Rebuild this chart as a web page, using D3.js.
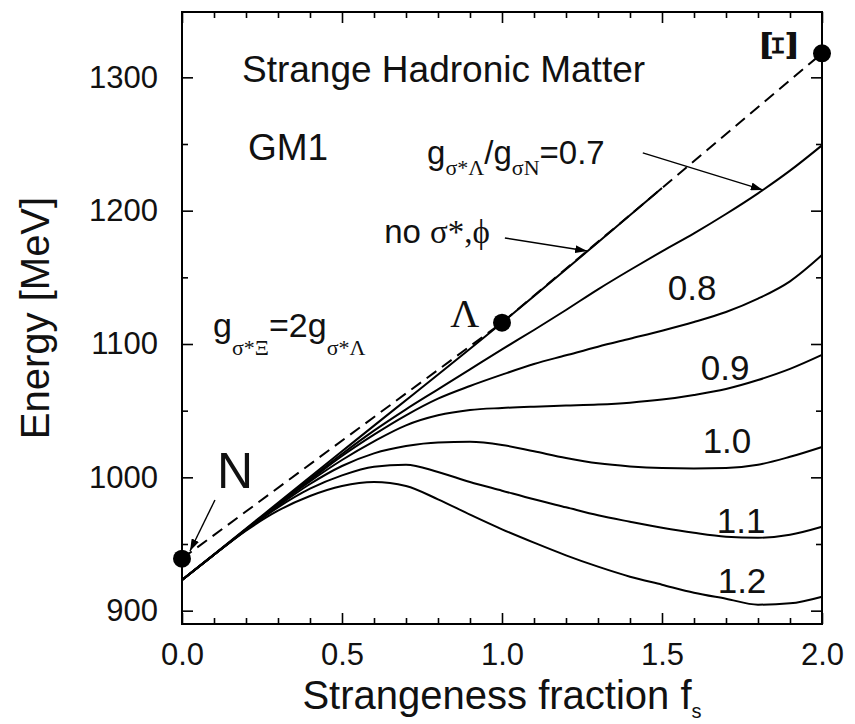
<!DOCTYPE html>
<html>
<head>
<meta charset="utf-8">
<script src="https://cdn.jsdelivr.net/npm/d3@7"></script>
<style>
  body { margin: 0; background: #fff; }
  text { font-family: "Liberation Sans", Arial, Helvetica, sans-serif; fill: #111; }
</style>
</head>
<body>
<svg id="chart" width="855" height="724"></svg>
<script>
// Strangeness fraction grid (f_s) on which the energy curves are tabulated
const fsGrid = [0, 0.1, 0.2, 0.3, 0.4, 0.5, 0.6, 0.7, 0.8, 0.9, 1.0,
                1.1, 1.2, 1.3, 1.4, 1.5, 1.6, 1.7, 1.8, 1.9, 2.0];

// Energy per baryon [MeV] for g_{σ*Λ}/g_{σN} = 0.7 ... 1.2 (GM1)
const energy07 = [923, 942, 961, 980, 999, 1017.5, 1035, 1051, 1066, 1081, 1096,
                  1110.5, 1125.5, 1141, 1155.5, 1169.5, 1183, 1197.5, 1213, 1230, 1249];
const energy08 = [923, 942, 961, 980, 998, 1016, 1032, 1046.5, 1059, 1068.5, 1077,
                  1085, 1091.5, 1098, 1104, 1110, 1116.5, 1124, 1134, 1147, 1166.7];
const energy09 = [923, 942, 961, 979.5, 997, 1013, 1027, 1039, 1046.5, 1050.5, 1052,
                  1053, 1053.8, 1054.6, 1056, 1058.3, 1061.8, 1066.3, 1073, 1081.3, 1091.8];
const energy10 = [923, 942, 960.5, 978.5, 995, 1008.5, 1018, 1023.5, 1026.2, 1026.6, 1024.3,
                  1019.5, 1014.5, 1010.5, 1008.2, 1007, 1006.7, 1007, 1009.4, 1015.4, 1022.8];
const energy11 = [923, 942, 960.5, 977.5, 991.5, 1001.5, 1008, 1009.5, 1004, 996.5, 990,
                  983.5, 977.5, 971.5, 966.7, 962.2, 958.4, 955.5, 954.7, 957, 963];
const energy12 = [923, 942, 960, 975, 986, 993.5, 996.5, 993.5, 983.5, 972, 961,
                  951, 941.5, 933, 925.5, 919.5, 913.5, 909, 904.5, 905.5, 910.5];

// Curve without σ* and φ mesons
const fsNoSigma = [0, 0.5, 1.0, 1.5];
const energyNoSigma = [923, 1019.5, 1116, 1217];

// Free baryons: N, Λ, Ξ masses
const hadronNames = ["N", "Λ", "Ξ"];
const hadronFs = [0, 1, 2];
const hadronMass = [939, 1116, 1318];

// Axis ticks
const xTickValues = [0, 0.5, 1.0, 1.5, 2.0];
const xTickLabels = ["0.0", "0.5", "1.0", "1.5", "2.0"];
const yTickValues = [900, 1000, 1100, 1200, 1300];
const yTickLabels = ["900", "1000", "1100", "1200", "1300"];

// Coupling-ratio labels for the curves
const curveLabels = ["0.8", "0.9", "1.0", "1.1", "1.2"];
const curveLabelFs = [1.594, 1.697, 1.703, 1.747, 1.75];
const curveLabelE = [1133, 1073, 1018, 958, 913];

const svg = d3.select("#chart");
const x = d3.scaleLinear().domain([0, 2]).range([182, 822]);
const y = d3.scaleLinear().domain([890, 1349]).range([624, 12]);

svg.append("rect").attr("width", 855).attr("height", 724).attr("fill", "#fff");

// arrowhead marker
svg.append("defs").append("marker")
  .attr("id", "arrow").attr("markerUnits", "userSpaceOnUse")
  .attr("viewBox", "0 0 12 8").attr("refX", 12).attr("refY", 4)
  .attr("markerWidth", 12).attr("markerHeight", 8).attr("orient", "auto")
  .append("path").attr("d", "M0,0 L12,4 L0,8 Z").attr("fill", "#000");

// ---- axes (ticks pointing inward on all four sides) ----
const minorX = d3.range(0, 2.001, 0.1).filter(v => Math.abs(v * 2 - Math.round(v * 2)) > 1e-6);
const minorY = d3.range(900, 1350, 50).filter(v => v % 100 !== 0);

function styleAxis(g) {
  g.select(".domain").remove();
  g.selectAll(".tick line").attr("stroke", "#000").attr("stroke-width", 1.6);
  g.selectAll("text").attr("fill", "#111").style("font-size", "31px")
    .style("font-family", '"Liberation Sans", Arial, sans-serif');
}

svg.append("g").attr("transform", "translate(0,624)")
  .call(d3.axisBottom(x).tickValues(xTickValues).tickSize(-11).tickSizeOuter(0)
        .tickPadding(19).tickFormat((d, i) => xTickLabels[i]))
  .call(styleAxis);
svg.append("g").attr("transform", "translate(0,624)")
  .call(d3.axisBottom(x).tickValues(minorX).tickSize(-6).tickSizeOuter(0).tickFormat(""))
  .call(styleAxis);
svg.append("g").attr("transform", "translate(0,12)")
  .call(d3.axisTop(x).tickValues(xTickValues).tickSize(-11).tickSizeOuter(0).tickFormat(""))
  .call(styleAxis);
svg.append("g").attr("transform", "translate(0,12)")
  .call(d3.axisTop(x).tickValues(minorX).tickSize(-6).tickSizeOuter(0).tickFormat(""))
  .call(styleAxis);
svg.append("g").attr("transform", "translate(182,0)")
  .call(d3.axisLeft(y).tickValues(yTickValues).tickSize(-11).tickSizeOuter(0)
        .tickPadding(24).tickFormat((d, i) => yTickLabels[i]))
  .call(styleAxis);
svg.append("g").attr("transform", "translate(182,0)")
  .call(d3.axisLeft(y).tickValues(minorY).tickSize(-6).tickSizeOuter(0).tickFormat(""))
  .call(styleAxis);
svg.append("g").attr("transform", "translate(822,0)")
  .call(d3.axisRight(y).tickValues(yTickValues).tickSize(-11).tickSizeOuter(0).tickFormat(""))
  .call(styleAxis);
svg.append("g").attr("transform", "translate(822,0)")
  .call(d3.axisRight(y).tickValues(minorY).tickSize(-6).tickSizeOuter(0).tickFormat(""))
  .call(styleAxis);

// frame
svg.append("rect").attr("x", x(0)).attr("y", y(1349))
  .attr("width", x(2) - x(0)).attr("height", y(890) - y(1349))
  .attr("fill", "none").attr("stroke", "#000").attr("stroke-width", 2);

// axis titles
svg.append("text").attr("transform", `translate(49,${(y(890) + y(1349)) / 2}) rotate(-90)`)
  .attr("text-anchor", "middle").style("font-size", "40px").text("Energy [MeV]");
const xt = svg.append("text").attr("x", (x(0) + x(2)) / 2).attr("y", 709)
  .attr("text-anchor", "middle").style("font-size", "40px");
xt.append("tspan").text("Strangeness fraction f");
xt.append("tspan").attr("dy", 9).style("font-size", "20px").text("s");

// ---- curves ----
const line = d3.line().x(d => x(d[0])).y(d => y(d[1])).curve(d3.curveMonotoneX);
const couplingSeries = [energy07, energy08, energy09, energy10, energy11, energy12];

svg.append("g").selectAll("path").data(couplingSeries).join("path")
  .attr("d", s => line(fsGrid.map((f, i) => [f, s[i]])))
  .attr("fill", "none").attr("stroke", "#000").attr("stroke-width", 2);

svg.append("path")
  .attr("d", line(fsNoSigma.map((f, i) => [f, energyNoSigma[i]])))
  .attr("fill", "none").attr("stroke", "#000").attr("stroke-width", 2);

// free hyperon mixture: straight segments N -> Λ -> Ξ
svg.append("path")
  .attr("d", d3.line().x(d => x(d[0])).y(d => y(d[1]))(hadronFs.map((f, i) => [f, hadronMass[i]])))
  .attr("fill", "none").attr("stroke", "#000").attr("stroke-width", 2)
  .attr("stroke-dasharray", "12,7");

svg.append("g").selectAll("circle").data(hadronFs).join("circle")
  .attr("cx", (f) => x(f)).attr("cy", (f, i) => y(hadronMass[i])).attr("r", 9).attr("fill", "#000");

// ---- labels ----
function rich(sel, parts, mainSize, subSize, drop) {
  let lowered = false;
  parts.forEach(p => {
    const t = sel.append("tspan").text(p.t);
    if (p.sub && !lowered) { t.attr("dy", drop); lowered = true; }
    if (!p.sub && lowered) { t.attr("dy", -drop); lowered = false; }
    t.style("font-size", (p.sub ? subSize : mainSize) + "px");
    if (p.greek) t.style("font-family", '"Liberation Serif", "Times New Roman", serif');
  });
}

svg.append("text").attr("x", x(0.1875)).attr("y", y(1296.5))
  .style("font-size", "37px").text("Strange Hadronic Matter");
svg.append("text").attr("x", x(0.206)).attr("y", y(1238))
  .style("font-size", "37px").text("GM1");

rich(svg.append("text").attr("x", x(0.766)).attr("y", y(1235)),
  [{t: "g"}, {t: "σ*Λ", sub: true, greek: true}, {t: "/g"}, {t: "σN", sub: true, greek: true}, {t: "=0.7"}],
  33, 22, 11);

rich(svg.append("text").attr("x", x(0.9625)).attr("y", y(1175.7)).attr("text-anchor", "end"),
  [{t: "no "}, {t: "σ*,ϕ", greek: true}], 33, 33, 0);

rich(svg.append("text").attr("x", x(0.097)).attr("y", y(1105.2)),
  [{t: "g"}, {t: "σ*Ξ", sub: true, greek: true}, {t: "=2g"}, {t: "σ*Λ", sub: true, greek: true}],
  34, 22, 18);

svg.append("text").attr("x", x(0.166)).attr("y", y(992))
  .attr("text-anchor", "middle").style("font-size", "50px").text(hadronNames[0]);
svg.append("text").attr("x", x(0.884)).attr("y", y(1112.7))
  .attr("text-anchor", "middle").style("font-size", "40px")
  .style("font-family", '"Liberation Serif", "Times New Roman", serif').text(hadronNames[1]);
svg.append("text").attr("transform", `translate(${x(1.872) + 15},${y(1324)}) rotate(-90)`)
  .attr("text-anchor", "middle").style("font-size", "46px").style("font-weight", "bold")
  .style("font-family", '"DejaVu Serif", "Liberation Serif", serif').text(hadronNames[2]);

svg.append("g").selectAll("text").data(curveLabels).join("text")
  .attr("x", (d, i) => x(curveLabelFs[i])).attr("y", (d, i) => y(curveLabelE[i]))
  .attr("text-anchor", "middle").style("font-size", "35px").text(d => d);

// ---- arrows ----
const interp07 = d3.scaleLinear().domain(fsGrid).range(energy07);
const interpNo = d3.scaleLinear().domain(fsNoSigma).range(energyNoSigma);
const arrows = [
  [[1.44, 1243.3], [1.815, interp07(1.815)]],
  [[1.009, 1179.5], [1.266, interpNo(1.266)]],
  [[0.103, 983], [0.025, 944.8]]
];
svg.append("g").selectAll("line").data(arrows).join("line")
  .attr("x1", d => x(d[0][0])).attr("y1", d => y(d[0][1]))
  .attr("x2", d => x(d[1][0])).attr("y2", d => y(d[1][1]))
  .attr("stroke", "#000").attr("stroke-width", 1.4).attr("marker-end", "url(#arrow)");
</script>
</body>
</html>
